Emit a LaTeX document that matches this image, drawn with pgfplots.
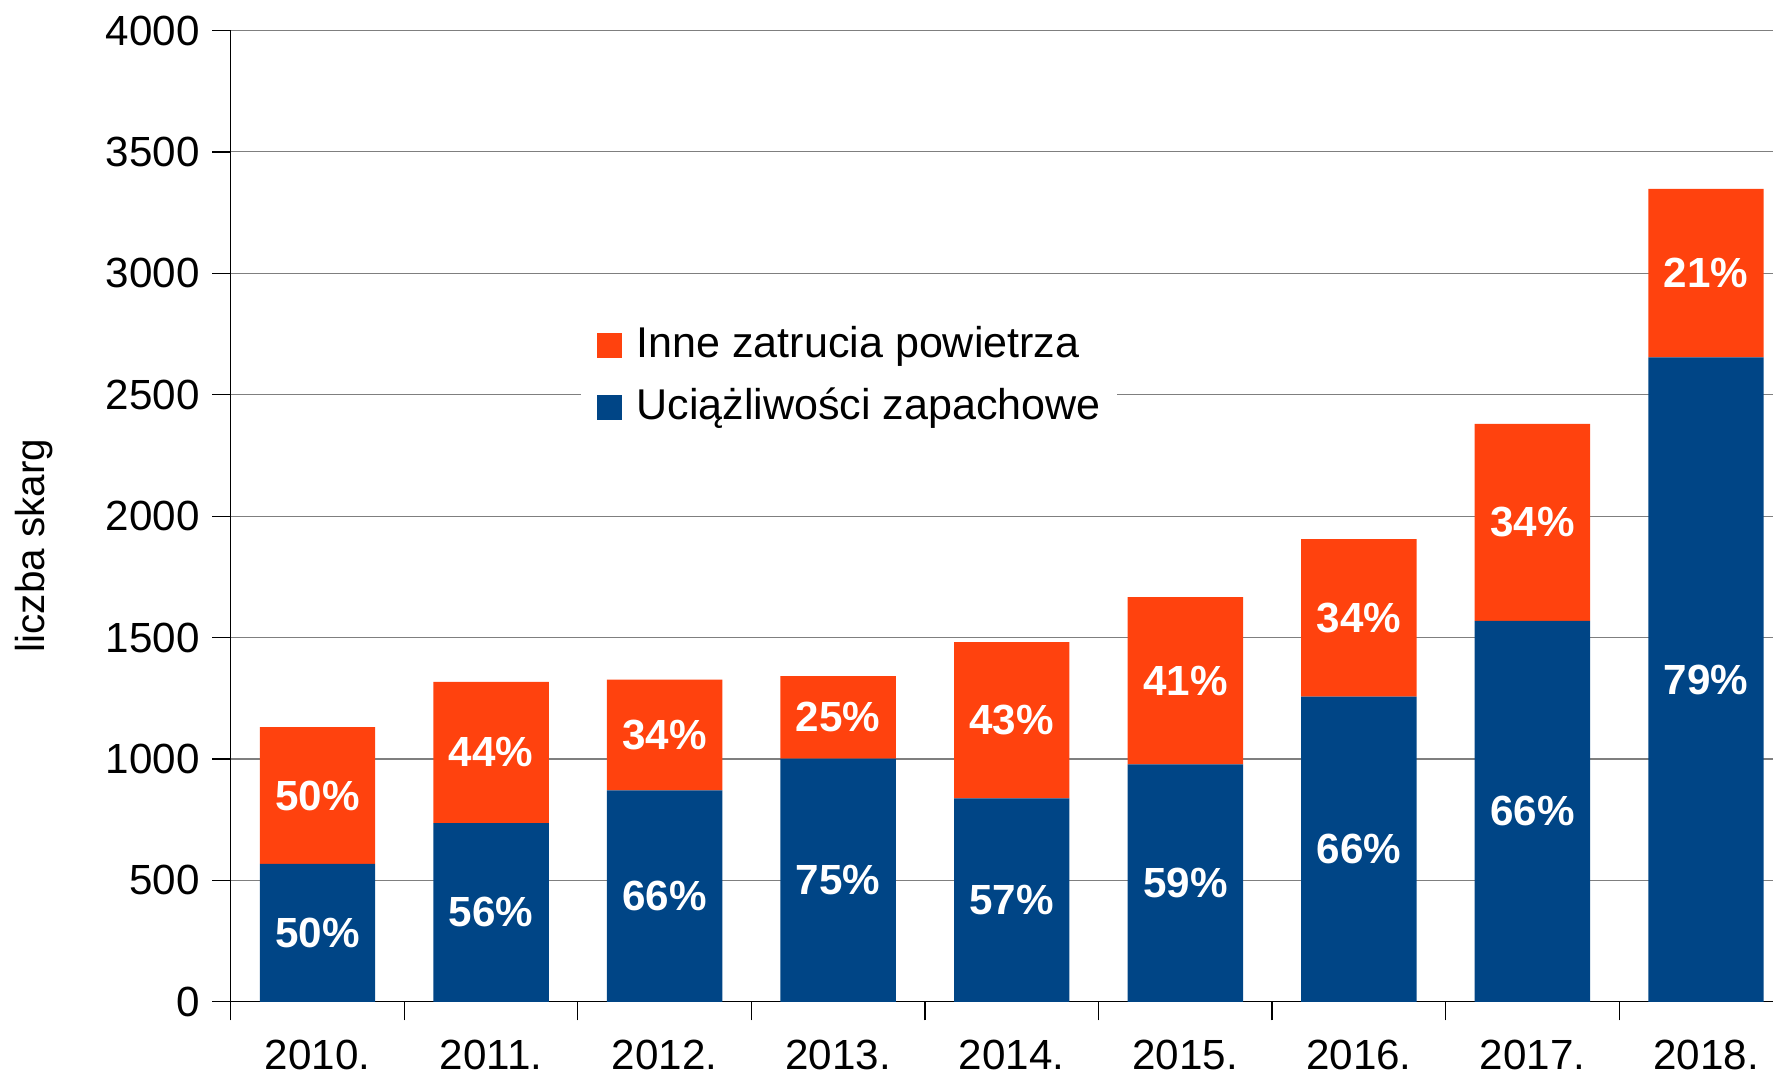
\documentclass[border=0pt]{standalone}
\usepackage{pgfplots}
\pgfplotsset{compat=1.18}
\usepackage{pgfplotstable}
\usepackage{fontspec}
\setmainfont{Liberation Sans}
\definecolor{lblue}{HTML}{004586}
\definecolor{lorange}{HTML}{FF420E}
\definecolor{gridgray}{HTML}{7F7F7F}

\pgfplotstableread{
x y lab
0 568 50
1 736 56
2 871 66
3 1001 75
4 838 57
5 978 59
6 1257 66
7 1569 66
8 2654 79
}\bluetab

\pgfplotstableread{
x y lab
0 563 50
1 582 44
2 456 34
3 340 25
4 643 43
5 689 41
6 648 34
7 811 34
8 694 21
}\orangetab

\begin{document}
\begin{tikzpicture}
\begin{axis}[
  scale only axis, width=156.21mm, height=97.13mm,
  ybar stacked, bar width=0.665,
  xmin=-0.5, xmax=8.5, ymin=0, ymax=4000,
  enlargelimits=false,
  axis lines=left, axis line style={-, black, line width=0.35pt},
  ytick={0,500,...,4000},
  ymajorgrids, grid style={gridgray, line width=0.3pt},
  xtick={-0.5,0.5,...,8.5}, xticklabels={,,,,,,,,,,},
  extra x ticks={0,1,2,3,4,5,6,7,8},
  extra x tick labels={2010.,2011.,2012.,2013.,2014.,2015.,2016.,2017.,2018.},
  extra x tick style={major tick length=0pt, grid=none, xticklabel style={yshift=-2.6mm}},
  tick align=outside, major tick length=1.85mm,
  tick style={black, line width=0.35pt},
  ticklabel style={font=\fontsize{12}{14}\selectfont},
  /pgf/number format/assume math mode=true,
  /pgf/number format/1000 sep={},
  every axis y label/.style={at={([xshift=-19.67mm]rel axis cs:0,0.4697)}, rotate=90, anchor=center, font=\fontsize{11.5}{13}\selectfont},
  ylabel={liczba skarg},
  legend style={at={(0.2236,0.6435)}, anchor=west, draw=none, fill=white,
    inner xsep=1.6mm, inner ysep=2mm, font=\fontsize{12.25}{14}\selectfont,
    row sep=2mm, column sep=1.5mm,
    nodes={inner sep=0pt, text height=3.3mm, text depth=0.9mm}},
  legend cell align=left,
  reverse legend,
  legend image code/.code={\fill[#1] (0mm,-1.25mm) rectangle (2.5mm,1.25mm);},
  nodes near coords={\pgfplotspointmeta\%},
  every node near coord/.append style={font=\bfseries\fontsize{12}{14}\selectfont, text=white, anchor=center},
]
\addplot[fill=lblue, draw=none, point meta=explicit symbolic]
  table[x=x, y=y, meta=lab] {\bluetab};
\addlegendentry{Uciążliwości zapachowe}
\addplot[fill=lorange, draw=none, point meta=explicit symbolic]
  table[x=x, y=y, meta=lab] {\orangetab};
\addlegendentry{Inne zatrucia powietrza}
\end{axis}
\pgfresetboundingbox
\path[use as bounding box] (-23.07mm,-7.42mm) rectangle (154.23mm,100.18mm);
\end{tikzpicture}
\end{document}
